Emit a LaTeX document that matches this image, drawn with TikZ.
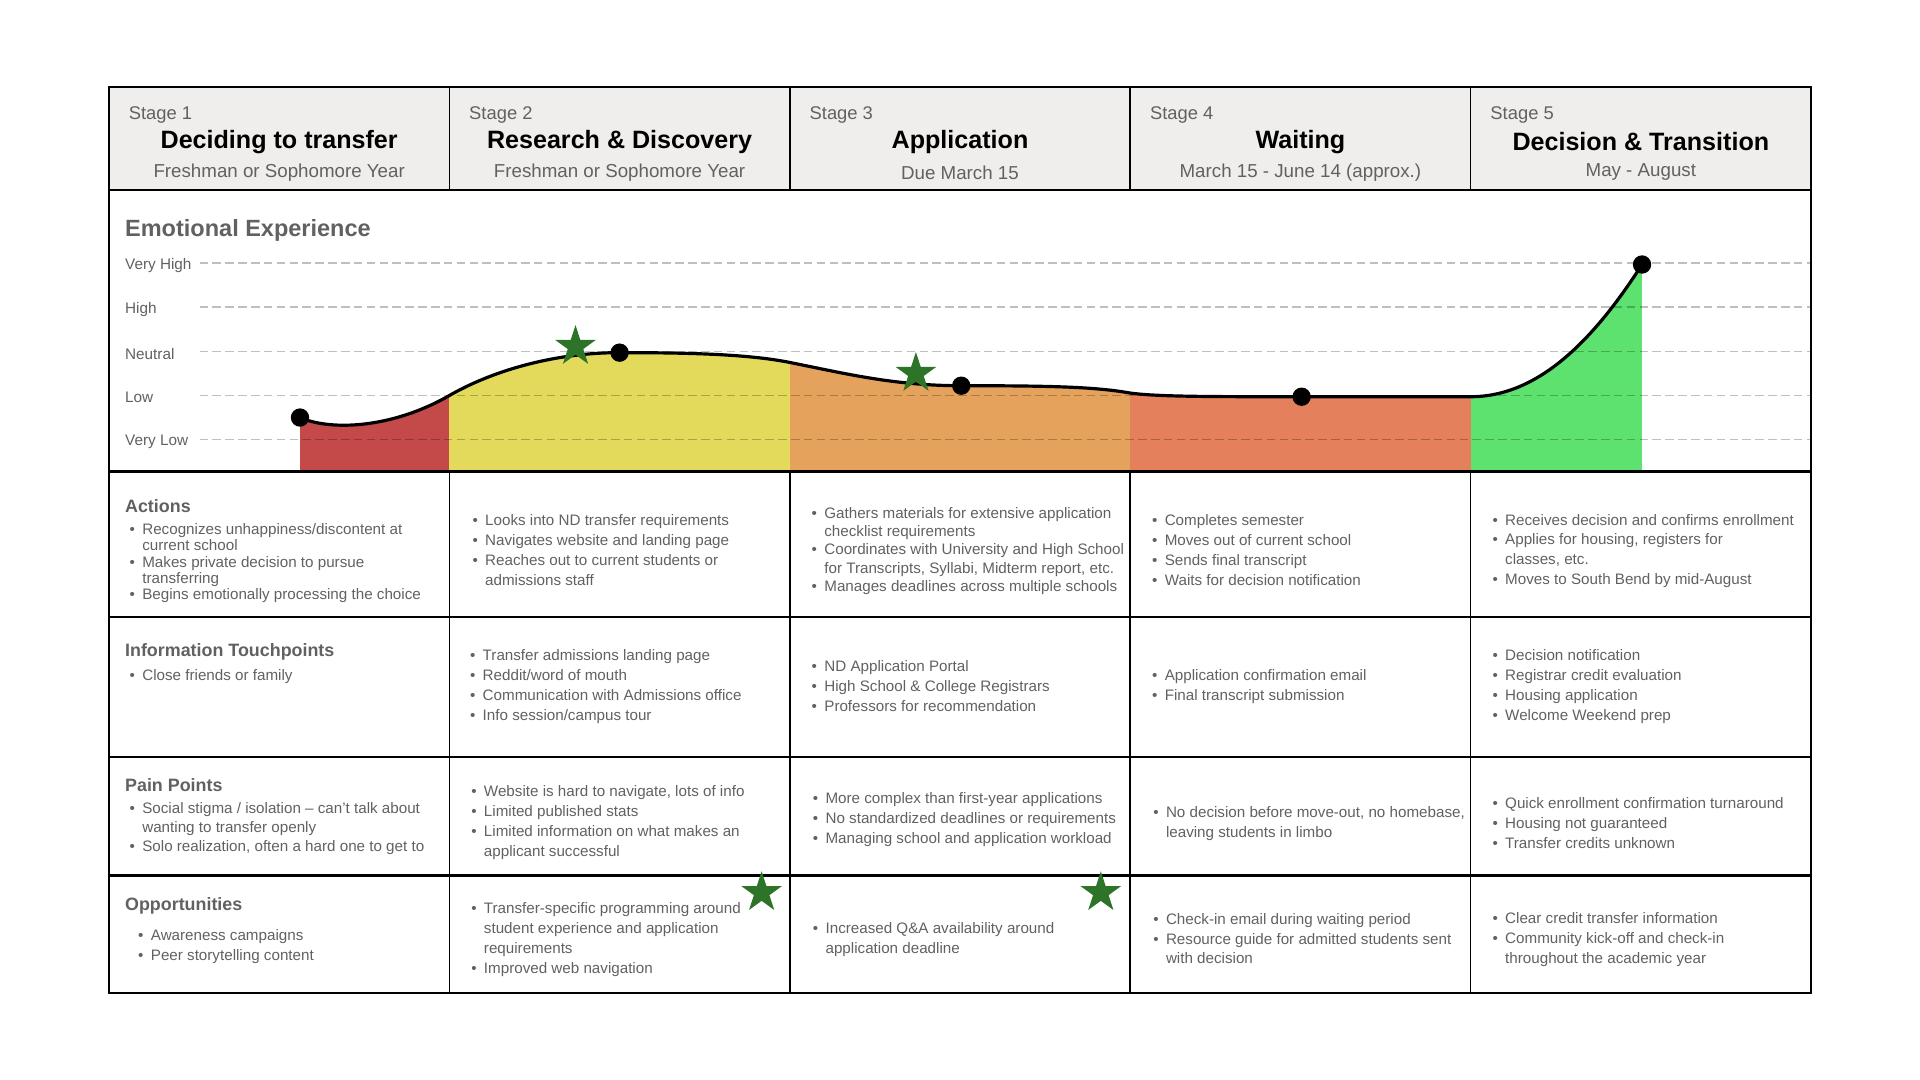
\documentclass[tikz,border=0pt]{standalone}
\usepackage{fontspec}
\setmainfont{Liberation Sans}
\usetikzlibrary{shapes.geometric}

\definecolor{txtgray}{HTML}{616161}
\definecolor{headfill}{HTML}{EFEEEC}
\definecolor{moodred}{HTML}{C44A4A}
\definecolor{moodyellow}{HTML}{E3DA5C}
\definecolor{moodorange}{HTML}{E5A25C}
\definecolor{moodsalmon}{HTML}{E4805C}
\definecolor{moodgreen}{HTML}{5DE26F}
\definecolor{stargreen}{HTML}{2E7428}

% bullet line / hanging line
\newcommand{\bl}{\textbullet\hspace{6pt}}
\newcommand{\hg}{\hphantom{\textbullet}\hspace{6pt}}

% the emotion curve
\newcommand{\moodpath}{(245,341) .. controls (270,352) and (320,350) .. (367,323)
  .. controls (400,304) and (450,288) .. (506,288)
  .. controls (560,288) and (610,289) .. (645,296)
  .. controls (690,305) and (730,315) .. (785,315)
  .. controls (860,315) and (895,316) .. (923,321)
  .. controls (945,324) and (990,324) .. (1063,324) -- (1201,324)
  .. controls (1255,324) and (1300,280) .. (1341,216)}

\tikzset{
  stagenum/.style={anchor=west, inner sep=0, yshift=-2pt, text=txtgray, font=\fontsize{15}{18}\selectfont},
  stagetitle/.style={inner sep=0, yshift=-1.8pt, font=\bfseries\fontsize{20.5}{24}\selectfont},
  stagesub/.style={inner sep=0, yshift=-1.8pt, text=txtgray, font=\fontsize{15.3}{18}\selectfont},
  rowhead/.style={anchor=west, inner sep=0, yshift=-1.5pt, text=txtgray, font=\bfseries\fontsize{14.6}{17}\selectfont},
  celltext/.style={anchor=west, inner sep=0, yshift=-1.5pt, align=left, text=txtgray, font=\fontsize{12.4}{#1}\selectfont},
  celltext/.default=16.3,
  lvl/.style={anchor=west, inner sep=0, yshift=-1.8pt, text=txtgray, font=\fontsize{12.5}{15}\selectfont},
  gridline/.style={black, opacity=0.25, line width=1.4pt, dash pattern=on 7pt off 3.5pt},
  moodline/.style={line width=2.6pt},
  mooddot/.style={circle, fill=black, inner sep=0, minimum size=15pt},
  staricon/.style={star, star points=5, star point ratio=2.618, fill=stargreen, inner sep=0, minimum size=35pt},
  frame/.style={line width=2pt},
  divider/.style={line width=1.4pt},
}

\begin{document}
\begin{tikzpicture}[x=1pt,y=-1pt]
\useasboundingbox (0,0) rectangle (1568,882);

% header band
\fill[headfill] (89,71) rectangle (1479,155);

% coloured area under the curve
\begin{scope}
\clip (245,385) -- \moodpath -- (1341,385) -- cycle;
\fill[moodred] (245,155) rectangle (367,385);
\fill[moodyellow] (367,155) rectangle (645,385);
\fill[moodorange] (645,155) rectangle (923,385);
\fill[moodsalmon] (923,155) rectangle (1201,385);
\fill[moodgreen] (1201,155) rectangle (1341,385);
\end{scope}

% levels
\node[rowhead, yshift=-1.5pt, font=\bfseries\fontsize{19.2}{22}\selectfont] (emo) at (102,185) {Emotional Experience};
\foreach \lab/\yy in {Very High/215, High/251, Neutral/287, Low/323, Very Low/359} {
  \node[lvl] (lv\yy) at (102,\yy) {\lab};
  \draw[gridline] (163,\yy) -- (1479,\yy);
}

\draw[moodline] \moodpath;
\node[mooddot] (d1) at (245,341) {};
\node[mooddot] (d2) at (506,288) {};
\node[mooddot] (d3) at (785,315) {};
\node[mooddot] (d4) at (1063,324) {};
\node[mooddot] (d5) at (1341,216) {};

% table lines
\draw[frame] (89,71) rectangle (1479,811);
\foreach \yy in {155,385,504,618,715}
  \draw[frame] (89,\yy) -- (1479,\yy);
\foreach \xx in {367,645,923,1201} {
  \draw[divider] (\xx,71) -- (\xx,155);
  \draw[divider] (\xx,385) -- (\xx,811);
}

% stars
\node[staricon] (st1) at (470,283) {};
\node[staricon] (st2) at (748,305) {};
\node[staricon] (st3) at (622,729) {};
\node[staricon] (st4) at (899,729) {};

% stage headers
\foreach \i/\ttl/\sub in {1/Deciding to transfer/Freshman or Sophomore Year,
    2/Research \& Discovery/Freshman or Sophomore Year,
    3/Application/Due March 15,
    4/Waiting/{March 15 - June 14 (approx.)},
    5/Decision \& Transition/May - August} {
  \node[stagenum] (num\i) at ({89+278*(\i-1)+16},92) {Stage \i};
  \node[stagetitle] (ttl\i) at ({228+278*(\i-1)},114) {\ttl};
  \node[stagesub] (sub\i) at ({228+278*(\i-1)},139) {\sub};
}

% row headings
\node[rowhead] (acthead) at (102,412) {Actions};
\node[rowhead] (infohead) at (102,531) {Information Touchpoints};
\node[rowhead] (painhead) at (102,640) {Pain Points};
\node[rowhead] (opphead) at (102,738) {Opportunities};

% actions
\node[celltext=13.25] (act1) at (105.7,458.5) {\bl Recognizes unhappiness/discontent at\\\hg current school\\\bl Makes private decision to pursue\\\hg transferring\\\bl Begins emotionally processing the choice};
\node[celltext] (act2) at (385.7,447.5) {\bl Looks into ND transfer requirements\\\bl Navigates website and landing page\\\bl Reaches out to current students or\\\hg admissions staff};
\node[celltext=14.75] (act3) at (662.7,448.5) {\bl Gathers materials for extensive application\\\hg checklist requirements\\\bl Coordinates with University and High School\\\hg for Transcripts, Syllabi, Midterm report, etc.\\\bl Manages deadlines across multiple schools};
\node[celltext] (act4) at (940.7,447.5) {\bl Completes semester\\\bl Moves out of current school\\\bl Sends final transcript\\\bl Waits for decision notification};
\node[celltext] (act5) at (1218.7,448.5) {\bl Receives decision and confirms enrollment\\\bl Applies for housing, registers for\\\hg classes, etc.\\\bl Moves to South Bend by mid-August};

% information touchpoints
\node[celltext] (info1) at (105.7,551) {\bl Close friends or family};
\node[celltext] (info2) at (383.7,559.5) {\bl Transfer admissions landing page\\\bl Reddit/word of mouth\\\bl Communication with Admissions office\\\bl Info session/campus tour};
\node[celltext] (info3) at (662.7,559) {\bl ND Application Portal\\\bl High School \& College Registrars\\\bl Professors for recommendation};
\node[celltext] (info4) at (940.7,559) {\bl Application confirmation email\\\bl Final transcript submission};
\node[celltext] (info5) at (1218.7,559.5) {\bl Decision notification\\\bl Registrar credit evaluation\\\bl Housing application\\\bl Welcome Weekend prep};

% pain points
\node[celltext=15.5] (pain1) at (105.7,675.5) {\bl Social stigma / isolation – can’t talk about\\\hg wanting to transfer openly\\\bl Solo realization, often a hard one to get to};
\node[celltext] (pain2) at (384.7,670.5) {\bl Website is hard to navigate, lots of info\\\bl Limited published stats\\\bl Limited information on what makes an\\\hg applicant successful};
\node[celltext] (pain3) at (663.7,668) {\bl More complex than first-year applications\\\bl No standardized deadlines or requirements\\\bl Managing school and application workload};
\node[celltext] (pain4) at (941.7,671) {\bl No decision before move-out, no homebase,\\\hg leaving students in limbo};
\node[celltext] (pain5) at (1218.7,670.5) {\bl Quick enrollment confirmation turnaround\\\bl Housing not guaranteed\\\bl Transfer credits unknown};

% opportunities
\node[celltext] (opp1) at (112.7,771.5) {\bl Awareness campaigns\\\bl Peer storytelling content};
\node[celltext] (opp2) at (384.7,765.5) {\bl Transfer-specific programming around\\\hg student experience and application\\\hg requirements\\\bl Improved web navigation};
\node[celltext] (opp3) at (663.7,765.5) {\bl Increased Q\&A availability around\\\hg application deadline};
\node[celltext] (opp4) at (941.7,765) {\bl Check-in email during waiting period\\\bl Resource guide for admitted students sent\\\hg with decision};
\node[celltext] (opp5) at (1218.7,765.5) {\bl Clear credit transfer information\\\bl Community kick-off and check-in\\\hg throughout the academic year};
\end{tikzpicture}
\end{document}
